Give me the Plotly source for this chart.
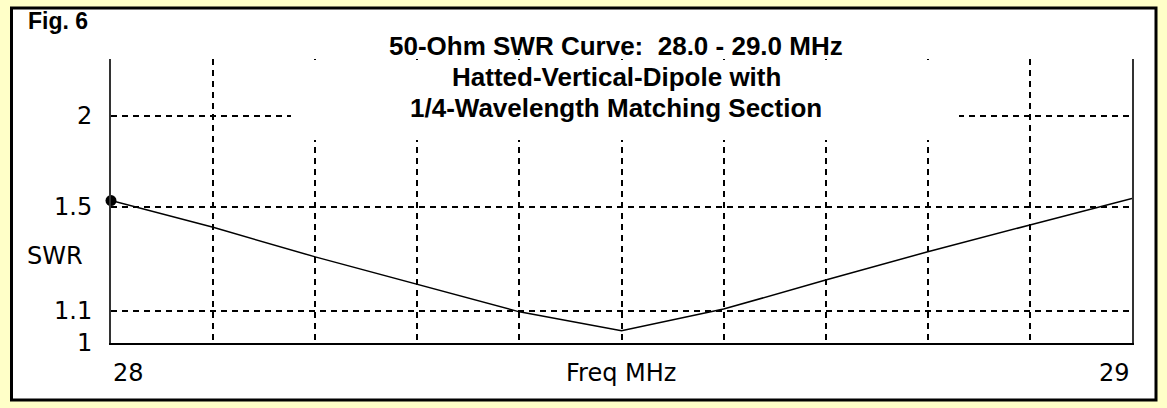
import plotly.graph_objects as go

# ---- data ----
freq_mhz = [28.0, 28.1, 28.2, 28.3, 28.4, 28.5, 28.6, 28.7, 28.8, 28.9, 29.0]
swr = [1.53, 1.41, 1.29, 1.19, 1.096, 1.037, 1.105, 1.204, 1.31, 1.42, 1.54]
y_tick_vals = [1.0, 1.1, 1.5, 2.0]
y_tick_text = ["1", "1.1", "1.5", "2"]
x_grid_vals = [28.1, 28.2, 28.3, 28.4, 28.5, 28.6, 28.7, 28.8, 28.9]
x_tick_text = ["28", "29"]
title_lines = ["50-Ohm SWR Curve:\u00a0\u00a028.0 - 29.0 MHz",
               "Hatted-Vertical-Dipole with",
               "1/4-Wavelength Matching Section"]


def rho(s):
    # the SWR axis is linear in reflection coefficient
    return (s - 1.0) / (s + 1.0)


W, H = 1167, 408
L, R, T, B = 111, 1132, 59, 343
pw, ph = R - L, B - T


def px(x):
    return (x - L) / pw


def py(y):
    return (B - y) / ph


BOLD = "Liberation Sans, Arial, sans-serif"
FONT = "DejaVu Sans, Verdana, sans-serif"
ymax = (B - T) / 680.0

fig = go.Figure()
fig.add_trace(go.Scatter(x=freq_mhz, y=[rho(s) for s in swr], mode="lines",
                         line=dict(color="black", width=1.5), hoverinfo="skip"))
fig.add_trace(go.Scatter(x=freq_mhz[:1], y=[rho(swr[0])], mode="markers",
                         marker=dict(color="black", size=11), cliponaxis=False,
                         hoverinfo="skip"))

fig.update_layout(
    width=W, height=H,
    margin=dict(l=L, r=W - R, t=T, b=H - B),
    paper_bgcolor="#FFFFC8", plot_bgcolor="white",
    showlegend=False,
    xaxis=dict(range=[28, 29], tickvals=x_grid_vals, showticklabels=False,
               ticks="", showgrid=True, gridcolor="black", gridwidth=1.5,
               griddash="6px,5px", zeroline=False, showline=True,
               linecolor="black", linewidth=2, fixedrange=True),
    yaxis=dict(range=[0, ymax], tickvals=[rho(v) for v in y_tick_vals[1:]],
               showticklabels=False, ticks="", showgrid=True, gridcolor="black",
               gridwidth=1.5, griddash="6px,5px", zeroline=False,
               showline=True, mirror=True, linecolor="#333333", linewidth=2,
               fixedrange=True),
)

shapes = [
    # outer black frame with white interior
    dict(type="rect", xref="paper", yref="paper", layer="below",
         x0=px(11.5), x1=px(1156), y0=py(400), y1=py(8),
         line=dict(color="black", width=3), fillcolor="white"),
    # white box behind the title that hides the grid
    dict(type="rect", xref="paper", yref="paper", layer="above",
         x0=px(291), x1=px(959), y0=py(140), y1=py(T + 1),
         line=dict(width=0), fillcolor="white"),
]
fig.update_layout(shapes=shapes)

ann = []
for t, yy in zip(title_lines, [46, 77, 108]):
    ann.append(dict(text="<b>%s</b>" % t, xref="paper", yref="paper",
                    x=px(616), y=py(yy), xanchor="center", yanchor="middle",
                    showarrow=False, font=dict(family=BOLD, size=26, color="black")))
ann.append(dict(text="<b>Fig. 6</b>", xref="paper", yref="paper",
                x=px(26), y=py(21), xanchor="left", yanchor="middle",
                showarrow=False, font=dict(family=BOLD, size=23, color="black")))
for v, t in zip(y_tick_vals, y_tick_text):
    ann.append(dict(text=t, xref="paper", yref="y", x=px(94), y=rho(v),
                    xanchor="right", yanchor="middle", showarrow=False,
                    font=dict(family=FONT, size=24, color="black")))
ann.append(dict(text="SWR", xref="paper", yref="paper", x=px(25), y=py(256),
                xanchor="left", yanchor="middle", showarrow=False,
                font=dict(family=FONT, size=24, color="black")))
ann.append(dict(text=x_tick_text[0], xref="x", yref="paper", x=28.0, y=py(373),
                xanchor="left", yanchor="middle", showarrow=False,
                font=dict(family=FONT, size=24, color="black")))
ann.append(dict(text=x_tick_text[1], xref="x", yref="paper", x=29.0, y=py(373),
                xanchor="right", yanchor="middle", showarrow=False,
                font=dict(family=FONT, size=24, color="black")))
ann.append(dict(text="Freq MHz", xref="paper", yref="paper", x=px(621), y=py(373),
                xanchor="center", yanchor="middle", showarrow=False,
                font=dict(family=FONT, size=24, color="black")))
fig.update_layout(annotations=ann)

fig.write_html("out.html", config={"displayModeBar": False},
               post_script="document.body.style.margin='0px';")
